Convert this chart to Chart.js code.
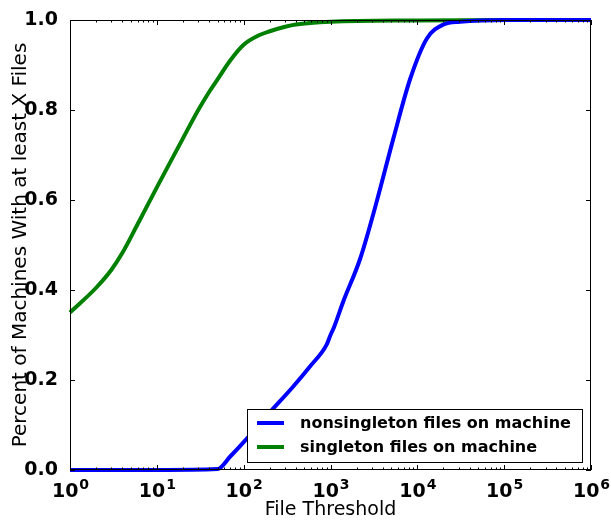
<!DOCTYPE html>
<html>
<head>
<meta charset="utf-8">
<script src="https://cdn.jsdelivr.net/npm/chart.js@4/dist/chart.umd.min.js"></script>
<style>
  html, body { margin: 0; padding: 0; background: #fff; }
  #wrap { width: 611px; height: 521px; }
</style>
</head>
<body>
<div id="wrap"><canvas id="chart" width="611" height="521"></canvas></div>
<script>
// file threshold (x) vs. fraction of machines with at least that many files
const nonsingletonX = [1, 10, 50, 70, 100, 200, 370, 580, 900, 1000, 1100, 1400, 2200, 3400, 5300, 8300, 12900, 20000, 31000, 100000, 1000000];
const nonsingletonY = [0, 0, 0.002, 0.03, 0.062, 0.128, 0.185, 0.23, 0.278, 0.30, 0.318, 0.374, 0.47, 0.596, 0.737, 0.87, 0.959, 0.99, 0.996, 1.0, 1.0];

const singletonX = [1, 2, 3, 4, 6, 10, 15, 20, 30, 40, 50, 70, 100, 150, 200, 300, 400, 1000, 10000, 100000, 1000000];
const singletonY = [0.35, 0.405, 0.445, 0.482, 0.546, 0.628, 0.692, 0.737, 0.80, 0.84, 0.868, 0.91, 0.945, 0.966, 0.975, 0.985, 0.99, 0.996, 0.999, 1.0, 1.0];

const yTicks = [0, 0.2, 0.4, 0.6, 0.8, 1.0];
const xExponents = [0, 1, 2, 3, 4, 5, 6];

const legendLabels = ['nonsingleton files on machine', 'singleton files on machine'];
const lineColors = ['#0000ff', '#008000'];

const FONT = '"DejaVu Sans", "Liberation Sans", sans-serif';

function toPoints(xs, ys) {
  return xs.map((x, i) => ({ x: x, y: ys[i] }));
}

// frame, inward tick marks and the 10^n labels
const axesDecor = {
  id: 'axesDecor',
  afterDatasetsDraw(chart) {
    const { ctx, chartArea: a, scales: { x, y } } = chart;
    ctx.save();
    ctx.strokeStyle = '#000';
    ctx.lineWidth = 1;

    ctx.beginPath();
    // y major ticks, both sides
    yTicks.forEach((v) => {
      const py = Math.round(y.getPixelForValue(v)) + 0.5;
      ctx.moveTo(a.left, py); ctx.lineTo(a.left + 5, py);
      ctx.moveTo(a.right, py); ctx.lineTo(a.right - 5, py);
    });
    // x major + minor ticks, top and bottom
    xExponents.forEach((e) => {
      const base = Math.pow(10, e);
      for (let m = 1; m <= 9; m++) {
        const v = base * m;
        if (v > 1e6) break;
        const px = Math.round(x.getPixelForValue(v)) + 0.5;
        const len = m === 1 ? 5 : 2.5;
        ctx.moveTo(px, a.bottom); ctx.lineTo(px, a.bottom - len);
        ctx.moveTo(px, a.top); ctx.lineTo(px, a.top + len);
      }
    });
    ctx.stroke();

    ctx.strokeRect(Math.round(a.left) + 0.5, Math.round(a.top) + 0.5,
      Math.round(a.right - a.left) - 1, Math.round(a.bottom - a.top) - 1);

    // x tick labels
    ctx.fillStyle = '#000';
    ctx.textBaseline = 'alphabetic';
    ctx.textAlign = 'left';
    xExponents.forEach((e) => {
      const px = x.getPixelForValue(Math.pow(10, e));
      ctx.font = 'bold 19px ' + FONT;
      const wBase = ctx.measureText('10').width;
      ctx.font = 'bold 14px ' + FONT;
      const wExp = ctx.measureText(String(e)).width;
      const start = px - (wBase + wExp) / 2;
      ctx.font = 'bold 19px ' + FONT;
      ctx.fillText('10', start, 497);
      ctx.font = 'bold 14px ' + FONT;
      ctx.fillText(String(e), start + wBase + 1, 489);
    });
    ctx.restore();
  },
  afterDraw(chart) {
    // legend box in the lower right of the plot
    const { ctx } = chart;
    ctx.save();
    ctx.fillStyle = '#fff';
    ctx.fillRect(247, 409, 336, 53);
    ctx.strokeStyle = '#000';
    ctx.lineWidth = 1;
    ctx.strokeRect(247.5, 409.5, 335, 53);
    legendLabels.forEach((label, i) => {
      const ly = 423 + i * 24;
      ctx.strokeStyle = lineColors[i];
      ctx.lineWidth = 4;
      ctx.beginPath();
      ctx.moveTo(257, ly);
      ctx.lineTo(284, ly);
      ctx.stroke();
      ctx.fillStyle = '#000';
      ctx.font = 'bold 16px ' + FONT;
      ctx.textBaseline = 'middle';
      ctx.fillText(label, 300, ly + 1);
    });
    ctx.restore();
  }
};

new Chart(document.getElementById('chart'), {
  type: 'line',
  data: {
    datasets: [
      {
        label: legendLabels[0],
        data: toPoints(nonsingletonX, nonsingletonY),
        borderColor: lineColors[0],
        borderWidth: 4,
        pointRadius: 0,
        cubicInterpolationMode: 'monotone',
        clip: false,
      },
      {
        label: legendLabels[1],
        data: toPoints(singletonX, singletonY),
        borderColor: lineColors[1],
        borderWidth: 4,
        pointRadius: 0,
        cubicInterpolationMode: 'monotone',
        clip: false,
      },
    ],
  },
  options: {
    responsive: false,
    animation: false,
    events: [],
    layout: { padding: { top: 20, right: 20, left: 0, bottom: 0 } },
    plugins: {
      legend: { display: false },
      tooltip: { enabled: false },
    },
    scales: {
      x: {
        type: 'logarithmic',
        min: 1,
        max: 1000000,
        grid: { display: false },
        border: { display: false },
        ticks: { display: false },
        title: {
          display: true,
          text: 'File Threshold',
          color: '#000',
          font: { family: FONT, size: 19 },
          padding: { top: 0, bottom: 0 },
        },
        afterFit: (scale) => { scale.height = 51; },
      },
      y: {
        min: 0,
        max: 1,
        grid: { display: false },
        border: { display: false },
        ticks: {
          stepSize: 0.2,
          padding: 4,
          color: '#000',
          font: { family: FONT, size: 19, weight: 'bold' },
          callback: (v) => v.toFixed(1),
        },
        title: {
          display: true,
          text: 'Percent of Machines With at least X Files',
          color: '#000',
          font: { family: FONT, size: 20 },
          padding: { top: 9, bottom: 0 },
        },
        afterFit: (scale) => { scale.width = 70; },
      },
    },
  },
  plugins: [axesDecor],
});
</script>
</body>
</html>
